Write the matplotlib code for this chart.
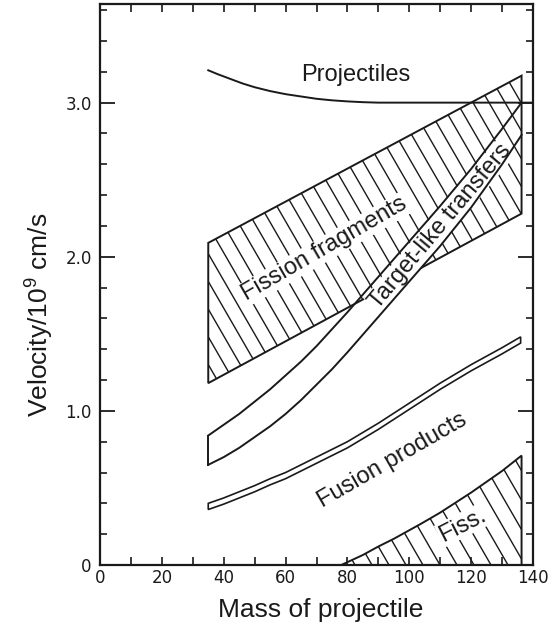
import matplotlib
matplotlib.use("Agg")
import matplotlib.pyplot as plt
import numpy as np
from matplotlib import font_manager
from matplotlib.patches import Polygon
from matplotlib.collections import LineCollection
from matplotlib.ticker import MultipleLocator, FixedLocator

# values: mass of projectile vs velocity (1e9 cm/s)
proj_mass = [35, 38, 42, 46, 50, 55, 60, 65, 70, 75, 80, 85, 90, 140]
proj_vel = [3.21, 3.185, 3.155, 3.125, 3.10, 3.075, 3.055, 3.04, 3.025, 3.015,
            3.008, 3.003, 3.0, 3.0]

ff_mass = [35, 136.3, 136.3, 35]
ff_vel = [2.09, 3.175, 2.28, 1.18]

tlt_mass = [35, 40, 45, 50, 55, 60, 65, 70, 75, 80, 90, 100, 110, 120, 130, 136.3]
tlt_vel_up = [0.84, 0.91, 0.98, 1.06, 1.14, 1.23, 1.32, 1.42, 1.53, 1.64, 1.87,
              2.10, 2.33, 2.57, 2.83, 3.0]
tlt_vel_lo = [0.65, 0.70, 0.76, 0.83, 0.90, 0.98, 1.07, 1.17, 1.27, 1.38, 1.61,
              1.84, 2.07, 2.32, 2.60, 2.79]

fus_mass = [35, 40, 45, 50, 55, 60, 65, 70, 75, 80, 90, 100, 110, 120, 130, 136]
fus_vel_up = [0.40, 0.435, 0.475, 0.515, 0.56, 0.60, 0.65, 0.70, 0.75, 0.80, 0.92,
              1.05, 1.18, 1.30, 1.41, 1.48]
fus_vel_lo = [0.36, 0.395, 0.435, 0.475, 0.52, 0.56, 0.61, 0.66, 0.71, 0.76, 0.88,
              1.01, 1.14, 1.26, 1.37, 1.44]

fiss_mass = [78, 85, 90, 95, 104, 110, 120, 130, 136.3]
fiss_vel = [0.0, 0.065, 0.12, 0.17, 0.27, 0.34, 0.47, 0.61, 0.71]

xticks = [0, 20, 40, 60, 80, 100, 120, 140]
yticks = [0, 1.0, 2.0, 3.0]
ytick_labels = ["0", "1.0", "2.0", "3.0"]

XMAX, YMAX = 140, 3.64
INK = "#1a1a1a"

names = {f.name for f in font_manager.fontManager.ttflist}
tick_font = "Liberation Sans Narrow" if "Liberation Sans Narrow" in names else "DejaVu Sans"
tick_size = 14 if tick_font == "Liberation Sans Narrow" else 12
plt.rcParams["font.family"] = ["Liberation Sans", "DejaVu Sans"]
plt.rcParams["mathtext.fontset"] = "custom"
plt.rcParams["mathtext.rm"] = "Liberation Sans"
plt.rcParams["mathtext.default"] = "regular"

W, H = 552, 630
fig = plt.figure(figsize=(W / 100, H / 100), dpi=100)
ax = fig.add_axes([100 / W, 65 / H, 433 / W, 561 / H])
ax.set_xlim(0, XMAX)
ax.set_ylim(0, YMAX)

for s in ax.spines.values():
    s.set_linewidth(1.6)
    s.set_color(INK)


def hatch(patch, spacing=16, angle=60):
    # steep "\" hatching, clipped to the patch
    pos = ax.get_position()
    sx = pos.width * W / XMAX
    sy = pos.height * H / YMAX
    run = YMAX * sy / np.tan(np.radians(angle)) / sx
    step = spacing / sx
    segs = [[(x0, YMAX), (x0 + run, 0)] for x0 in np.arange(-run, XMAX + step, step)]
    lc = LineCollection(segs, colors=INK, linewidths=1.0, zorder=1)
    lc.set_clip_path(patch)
    ax.add_collection(lc)


# projectiles
ax.plot(proj_mass, proj_vel, color=INK, lw=1.4, zorder=4)

# fission fragments (edge kept under the text boxes)
ff = Polygon(list(zip(ff_mass, ff_vel)), closed=True, fill=False, ec=INK, lw=1.4, zorder=2)
ax.add_patch(ff)
hatch(ff)

# target-like transfers band
ax.plot(tlt_mass, tlt_vel_up, color=INK, lw=1.4, zorder=4)
ax.plot(tlt_mass, tlt_vel_lo, color=INK, lw=1.4, zorder=4)
ax.plot([tlt_mass[0], tlt_mass[0]], [tlt_vel_up[0], tlt_vel_lo[0]], color=INK, lw=1.4, zorder=4)

# fusion products (thin band)
fus = Polygon(list(zip(fus_mass + fus_mass[::-1], fus_vel_up + fus_vel_lo[::-1])),
              closed=True, fill=False, ec=INK, lw=1.2, zorder=4)
ax.add_patch(fus)

# fission (low region)
fiss_pts = list(zip(fiss_mass, fiss_vel)) + [(fiss_mass[-1], 0)]
fiss = Polygon(fiss_pts, closed=True, fill=False, ec=INK, lw=1.4, zorder=4)
ax.add_patch(fiss)
hatch(fiss, spacing=17)

txt = dict(ha="center", va="center", fontsize=17, color=INK, rotation_mode="anchor", zorder=3)
box = dict(boxstyle="square,pad=0.05", fc="white", ec="none")
ax.text(82.8, 3.18, "Projectiles", **txt)
ax.text(72.6, 2.05, "Fission fragments", rotation=30, bbox=box, **txt)
ax.text(110, 2.20, "Target-like transfers", rotation=50, bbox=box, **txt)
ax.text(94.4, 0.68, "Fusion products", rotation=30, **txt)
ax.text(117.2, 0.26, "Fiss.", rotation=27, bbox=box, **txt)

# ticks
ax.xaxis.set_major_locator(FixedLocator(xticks))
ax.xaxis.set_minor_locator(MultipleLocator(10))
ax.yaxis.set_major_locator(FixedLocator(yticks))
ax.yaxis.set_minor_locator(MultipleLocator(0.2))
ax.set_xticklabels([str(t) for t in xticks])
ax.set_yticklabels(ytick_labels)
ax.tick_params(axis="x", which="both", direction="in", top=True, length=6, width=1.2,
               color=INK, pad=3)
ax.tick_params(axis="y", which="major", direction="in", right=True, length=11, width=1.3,
               color=INK, pad=6)
ax.tick_params(axis="y", which="minor", direction="in", right=True, length=5, width=1.2,
               color=INK)
for lab in ax.get_xticklabels() + ax.get_yticklabels():
    lab.set_fontfamily(tick_font)
    lab.set_fontsize(tick_size)
    lab.set_color(INK)

fig.text(321 / W, 1 - 610 / H, "Mass of projectile", ha="center", va="center",
         fontsize=19, color=INK)
fig.text(40 / W, 1 - 315 / H, "Velocity/10$^9$ cm/s", ha="center", va="center",
         rotation=90, fontsize=19, color=INK)

fig.savefig("out.png", dpi=100, facecolor="white")
